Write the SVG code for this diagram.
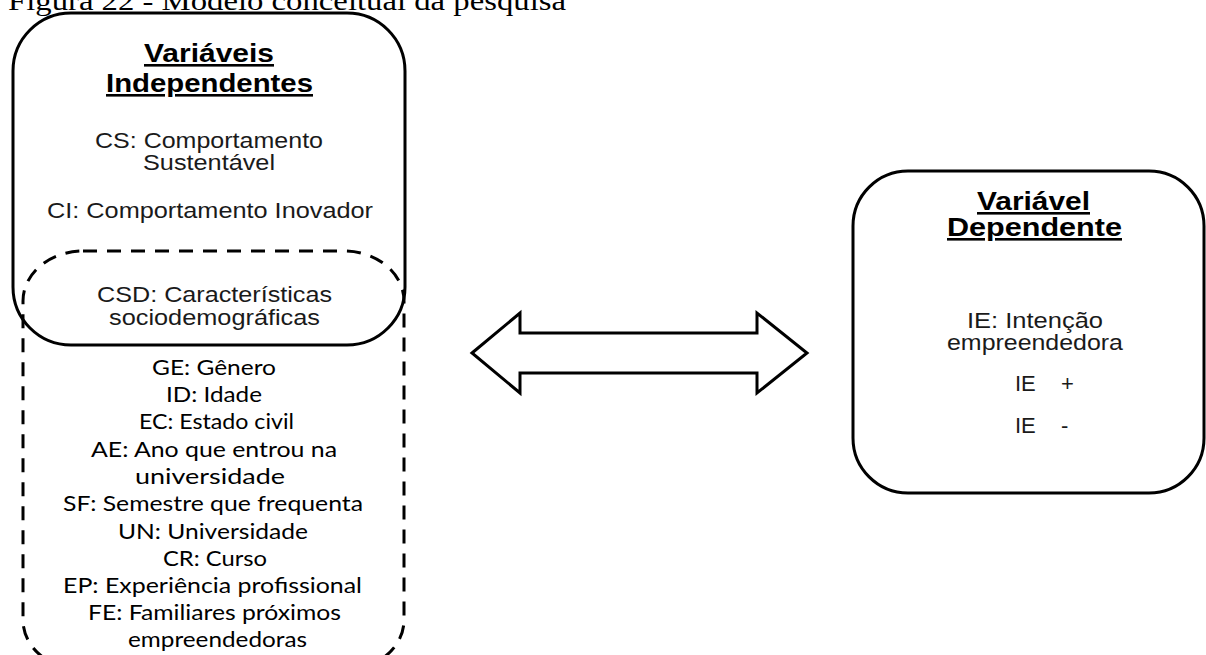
<svg xmlns="http://www.w3.org/2000/svg" width="1206" height="655" viewBox="0 0 1206 655">
<style>
.box{fill:none;stroke:#000;stroke-width:3}
.dash{fill:none;stroke:#000;stroke-width:3;stroke-dasharray:14 10}
.head{font-family:"Liberation Sans",Arial,sans-serif;font-weight:bold;font-size:26px;fill:#000;text-decoration:underline}
.body{font-family:"Liberation Sans",Arial,sans-serif;font-size:22px;fill:#1a1a1a}
.cal{font-family:Lato,"Open Sans",sans-serif;font-size:21px;fill:#000}
.title{font-family:"Liberation Serif","Times New Roman",serif;font-size:28px;fill:#000}
</style>
<rect width="1206" height="655" fill="#fff"/>
<text class="title" x="8" y="10" textLength="558" lengthAdjust="spacingAndGlyphs">Figura 22 - Modelo conceitual da pesquisa</text>

<g id="node-independentes">
<rect class="box" x="13" y="13" width="392" height="332" rx="58" ry="58"/>
<text class="head" x="144" y="62" textLength="130" lengthAdjust="spacingAndGlyphs">Variáveis</text>
<text class="head" x="106" y="92" textLength="207" lengthAdjust="spacingAndGlyphs">Independentes</text>
<text class="body" x="95" y="148" textLength="228" lengthAdjust="spacingAndGlyphs">CS: Comportamento</text>
<text class="body" x="143" y="170" textLength="132" lengthAdjust="spacingAndGlyphs">Sustentável</text>
<text class="body" x="47" y="218" textLength="326" lengthAdjust="spacingAndGlyphs">CI: Comportamento Inovador</text>
</g>

<g id="node-sociodemograficas">
<rect class="dash" x="23" y="251" width="381" height="419" rx="60" ry="50"/>
<text class="body" x="97" y="302" textLength="235" lengthAdjust="spacingAndGlyphs">CSD: Características</text>
<text class="body" x="109" y="325" textLength="211" lengthAdjust="spacingAndGlyphs">sociodemográficas</text>
<text class="cal" x="152" y="375" textLength="124" lengthAdjust="spacingAndGlyphs">GE: Gênero</text>
<text class="cal" x="166" y="402" textLength="96" lengthAdjust="spacingAndGlyphs">ID: Idade</text>
<text class="cal" x="139" y="429" textLength="155" lengthAdjust="spacingAndGlyphs">EC: Estado civil</text>
<text class="cal" x="91" y="457" textLength="246" lengthAdjust="spacingAndGlyphs">AE: Ano que entrou na</text>
<text class="cal" x="135" y="484" textLength="150" lengthAdjust="spacingAndGlyphs">universidade</text>
<text class="cal" x="63" y="511" textLength="300" lengthAdjust="spacingAndGlyphs">SF: Semestre que frequenta</text>
<text class="cal" x="118" y="539" textLength="190" lengthAdjust="spacingAndGlyphs">UN: Universidade</text>
<text class="cal" x="163" y="566" textLength="104" lengthAdjust="spacingAndGlyphs">CR: Curso</text>
<text class="cal" x="63" y="593" textLength="299" lengthAdjust="spacingAndGlyphs">EP: Experiência profissional</text>
<text class="cal" x="88" y="620" textLength="253" lengthAdjust="spacingAndGlyphs">FE: Familiares próximos</text>
<text class="cal" x="128" y="647" textLength="179" lengthAdjust="spacingAndGlyphs">empreendedoras</text>
</g>

<g id="node-dependente">
<rect class="box" x="853" y="171" width="351" height="322" rx="55" ry="55"/>
<text class="head" x="977" y="210" textLength="113" lengthAdjust="spacingAndGlyphs">Variável</text>
<text class="head" x="947" y="236" textLength="175" lengthAdjust="spacingAndGlyphs">Dependente</text>
<text class="body" x="967" y="328" textLength="136" lengthAdjust="spacingAndGlyphs">IE: Intenção</text>
<text class="body" x="947" y="350" textLength="176" lengthAdjust="spacingAndGlyphs">empreendedora</text>
<text class="body" y="391"><tspan x="1015">IE</tspan><tspan x="1061">+</tspan></text>
<text class="body" y="433"><tspan x="1015">IE</tspan><tspan x="1061">-</tspan></text>
</g>

<g id="connectors">
<polygon class="box" stroke-linejoin="miter" points="472,353 520,313 520,333 757,333 757,313 807,353 757,393 757,373 520,373 520,393"/>
</g>
</svg>
